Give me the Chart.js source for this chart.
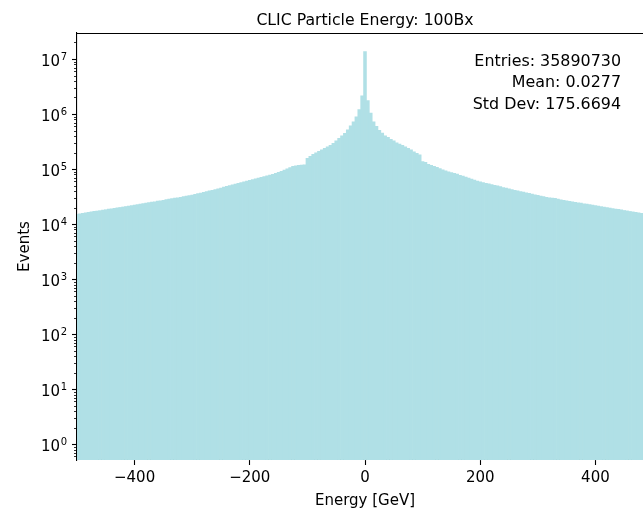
<!DOCTYPE html>
<html>
<head>
<meta charset="utf-8">
<title>CLIC Particle Energy: 100Bx</title>
<script src="https://cdn.jsdelivr.net/npm/chart.js"></script>
<style>
  html, body { margin:0; padding:0; background:#fff; overflow:hidden; }
  #wrap { position:absolute; left:0; top:0; width:660px; height:514px; }
</style>
</head>
<body>
<div id="wrap"><canvas id="energyChart" width="660" height="514"></canvas></div>
<script>
// ---------------- Histogram data ----------------
const binStart = -500;   // centre of the first bin [GeV]
const binWidth = 5;      // GeV per bin

// events per 5 GeV bin, from -500 to +500 GeV
const counts = [
  15100, 15400, 15700, 16000, 16400, 16700, 17000, 17300, 17600, 18000,
  18300, 18700, 19000, 19400, 19700, 20100, 20500, 20900, 21300, 21800,
  22200, 22700, 23100, 23600, 24100, 24600, 25100, 25500, 26100, 26600,
  27200, 27800, 28400, 29000, 29600, 30200, 30800, 31500, 32300, 33000,
  33800, 34800, 35900, 36800, 37800, 39000, 40200, 41200, 42400, 43800,
  45300, 46900, 48400, 50100, 51800, 53600, 55400, 57100, 58700, 60800,
  62600, 64400, 66600, 68600, 71000, 73100, 75500, 77800, 80400, 83500,
  87100, 91200, 95900, 101000, 106000, 112000, 115000, 117000, 118000, 120000,
  157000, 171000, 186000, 198000, 211000, 224000, 239000, 254000, 271000, 294000,
  327000, 363000, 403000, 448000, 518000, 612000, 724000, 893000, 1200000, 2150000,
  13700000,
  1750000, 1040000, 724000, 600000, 507000, 451000, 403000, 378000, 348000, 327000,
  301000, 285000, 271000, 254000, 239000, 224000, 206000, 194000, 182000, 137000,
  133000, 122000, 117000, 112000, 108000, 102000, 97100, 93100, 89300, 86300,
  83900, 81100, 77100, 74300, 71600, 68600, 65800, 63100, 60800, 58700,
  57100, 55400, 54000, 52500, 50900, 49500, 47900, 46300, 45000, 43700,
  42400, 41200, 40200, 39200, 38200, 37200, 36100, 35300, 34200, 33400,
  32400, 31500, 30700, 30200, 29700, 29300, 28500, 27700, 27100, 26500,
  25900, 25400, 24900, 24500, 24000, 23500, 23100, 22600, 22200, 21700,
  21200, 20800, 20400, 20000, 19600, 19200, 18800, 18500, 18100, 17700,
  17400, 17000, 16700, 16300, 16000, 15700, 15400, 15100, 14800, 14600
];

const binCenters = counts.map((_, i) => binStart + i * binWidth);

const xTicks = [-400, -200, 0, 200, 400];
const yDecades = [0, 1, 2, 3, 4, 5, 6, 7];
const yMin = 0.518;
const yMax = 2.97e7;

const titleText = "CLIC Particle Energy: 100Bx";
const xLabel = "Energy [GeV]";
const yLabel = "Events";
const statsLines = ["Entries: 35890730", "Mean: 0.0277", "Std Dev: 175.6694"];

const FONT = "'DejaVu Sans', sans-serif";

// ---------------- Extra drawing: spine, log ticks, texts ----------------
const decor = {
  id: "decor",
  afterDraw(chart) {
    const { ctx, chartArea: a } = chart;
    const ys = chart.scales.y;
    ctx.save();
    ctx.strokeStyle = "#000";
    ctx.fillStyle = "#000";

    // top spine
    ctx.lineWidth = 1.1;
    ctx.beginPath();
    ctx.moveTo(a.left, a.top + 0.5);
    ctx.lineTo(a.right, a.top + 0.5);
    ctx.stroke();

    // log ticks, major and minor
    for (let p = -1; p <= 7; p++) {
      for (let m = 1; m <= 9; m++) {
        const v = m * Math.pow(10, p);
        if (v < yMin || v > yMax) continue;
        const y = Math.round(ys.getPixelForValue(v)) + 0.5;
        const major = m === 1;
        ctx.lineWidth = major ? 1.1 : 0.8;
        ctx.beginPath();
        ctx.moveTo(a.left, y);
        ctx.lineTo(a.left - (major ? 5 : 3), y);
        ctx.stroke();
      }
    }

    // decade labels 10^n
    ctx.textBaseline = "alphabetic";
    ctx.textAlign = "right";
    yDecades.forEach(p => {
      const y = ys.getPixelForValue(Math.pow(10, p));
      const right = a.left - 10;
      ctx.font = "10px " + FONT;
      const ew = ctx.measureText(String(p)).width;
      ctx.fillText(String(p), right, y + 0.5);
      ctx.font = "15px " + FONT;
      ctx.fillText("10", right - ew - 0.5, y + 7);
    });

    // axis labels
    ctx.font = "15px " + FONT;
    ctx.textAlign = "center";
    ctx.fillText(xLabel, (a.left + a.right) / 2, 505);
    ctx.save();
    ctx.translate(28.5, (a.top + a.bottom) / 2);
    ctx.rotate(-Math.PI / 2);
    ctx.fillText(yLabel, 0, 0);
    ctx.restore();

    // title
    ctx.font = "15.7px " + FONT;
    ctx.fillText(titleText, (a.left + a.right) / 2, 25);

    // stats box
    ctx.font = "15.9px " + FONT;
    ctx.textAlign = "right";
    ctx.textBaseline = "middle";
    statsLines.forEach((t, i) => ctx.fillText(t, 621, 62 + i * 21.2));

    ctx.restore();
  }
};

// ---------------- Chart ----------------
const ctx = document.getElementById("energyChart").getContext("2d");
new Chart(ctx, {
  type: "bar",
  data: {
    datasets: [{
      data: binCenters.map((x, i) => ({ x: x, y: counts[i] })),
      backgroundColor: "#b0e0e6",
      borderWidth: 0,
      barPercentage: 1,
      categoryPercentage: 1
    }]
  },
  options: {
    responsive: false,
    animation: false,
    devicePixelRatio: 1,
    layout: { padding: { top: 33, right: 7, left: 0, bottom: 0 } },
    plugins: {
      legend: { display: false },
      tooltip: { enabled: false },
      title: { display: false }
    },
    scales: {
      x: {
        type: "linear",
        min: -500,
        max: 500,
        offset: false,
        afterBuildTicks: s => { s.ticks = xTicks.map(v => ({ value: v })); },
        afterFit: s => { s.height = 54; },
        grid: { display: true, offset: false, drawOnChartArea: false, drawTicks: true, tickLength: 5, tickWidth: 1.1, tickColor: "#000" },
        border: { display: true, color: "#000", width: 1.1 },
        ticks: {
          color: "#000",
          font: { family: FONT, size: 15 },
          padding: 4,
          maxRotation: 0,
          autoSkip: false,
          callback: v => String(v).replace("-", "\u2212")
        }
      },
      y: {
        type: "logarithmic",
        min: yMin,
        max: yMax,
        afterBuildTicks: s => { s.ticks = yDecades.map(p => ({ value: Math.pow(10, p) })); },
        afterFit: s => { s.width = 77; },
        ticks: { display: false },
        grid: { display: false },
        border: { display: true, color: "#000", width: 1.1 }
      }
    }
  },
  plugins: [decor]
});
</script>
</body>
</html>
